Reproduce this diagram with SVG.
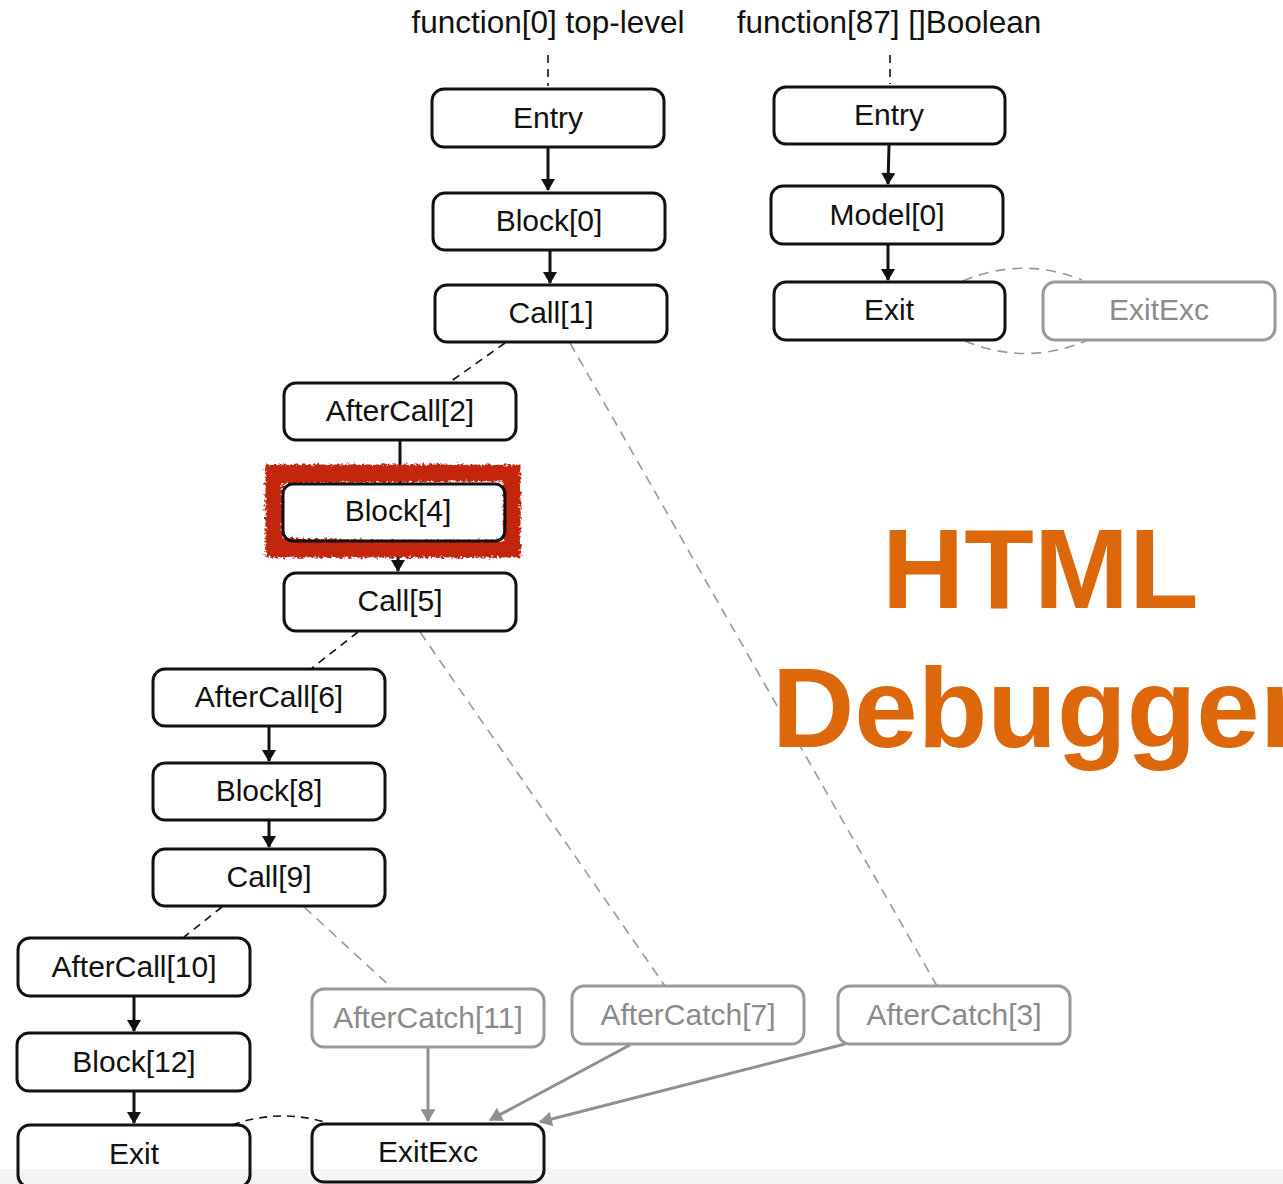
<svg xmlns="http://www.w3.org/2000/svg" width="1283" height="1184" viewBox="0 0 1283 1184">
<defs>
<style>
.n rect{fill:none;stroke:#111;stroke-width:3}
.n text{font-family:"Liberation Sans",Arial,sans-serif;font-size:30px;fill:#111;text-anchor:middle}
.g rect{stroke:#999}
.g text{fill:#8a8a8a}
.t{font-family:"Liberation Sans",Arial,sans-serif;font-size:31.5px;fill:#111;text-anchor:middle}
.e{fill:none;stroke:#111;stroke-width:3}
.eg{fill:none;stroke:#8f8f8f;stroke-width:3}
.d{fill:none;stroke:#111;stroke-width:1.6;stroke-dasharray:8 6}
.dg{fill:none;stroke:#999;stroke-width:1.6;stroke-dasharray:10 7}
.big{font-family:"Liberation Sans",Arial,sans-serif;font-weight:bold;font-size:114px;fill:#DD680C}
</style>
<marker id="ab" viewBox="0 0 12 14" refX="11" refY="7" markerWidth="13" markerHeight="14" markerUnits="userSpaceOnUse" orient="auto"><path d="M0,0 L12,7 L0,14 z" fill="#111"/></marker>
<marker id="ag" viewBox="0 0 12 14" refX="11" refY="7" markerWidth="15" markerHeight="15" markerUnits="userSpaceOnUse" orient="auto"><path d="M0,0 L12,7 L0,14 z" fill="#8f8f8f"/></marker>
<filter id="rough" x="-10%" y="-20%" width="120%" height="140%">
<feTurbulence type="fractalNoise" baseFrequency="0.35" numOctaves="2" seed="3" result="t"/>
<feDisplacementMap in="SourceGraphic" in2="t" scale="7"/>
</filter>
</defs>
<rect width="1283" height="1184" fill="#fff"/>
<rect x="0" y="1169" width="1283" height="15" fill="#f4f4f4"/>

<text class="t" x="548" y="33">function[0] top-level</text>
<text class="t" x="889" y="33">function[87] []Boolean</text>

<g id="connectors">
<line class="d" x1="548" y1="55" x2="548" y2="86" stroke-dasharray="12 6"/>
<line class="d" x1="890" y1="55" x2="890" y2="84" stroke-dasharray="12 6"/>
<line class="e" x1="548" y1="148" x2="548" y2="190" marker-end="url(#ab)"/>
<line class="e" x1="550" y1="251" x2="550" y2="283" marker-end="url(#ab)"/>
<line class="d" x1="505" y1="343" x2="450" y2="382"/>
<line class="dg" x1="570" y1="343" x2="937" y2="986"/>
<line class="e" x1="400" y1="441" x2="400" y2="484"/>
<line class="e" x1="398" y1="541" x2="398" y2="571" marker-end="url(#ab)"/>
<line class="d" x1="358" y1="632" x2="312" y2="668"/>
<line class="dg" x1="420" y1="632" x2="665" y2="986"/>
<line class="e" x1="269" y1="727" x2="269" y2="761" marker-end="url(#ab)"/>
<line class="e" x1="269" y1="821" x2="269" y2="847" marker-end="url(#ab)"/>
<line class="d" x1="222" y1="907" x2="184" y2="937"/>
<line class="dg" x1="304" y1="907" x2="392" y2="988"/>
<line class="e" x1="134" y1="997" x2="134" y2="1031" marker-end="url(#ab)"/>
<line class="e" x1="134" y1="1092" x2="134" y2="1123" marker-end="url(#ab)"/>
<path class="d" d="M232,1125 Q280,1108 328,1123"/>
<line class="eg" x1="428" y1="1048" x2="428" y2="1121" marker-end="url(#ag)"/>
<line class="eg" x1="630" y1="1045" x2="490" y2="1120" marker-end="url(#ag)"/>
<line class="eg" x1="845" y1="1044" x2="540" y2="1122" marker-end="url(#ag)"/>
<line class="e" x1="889" y1="145" x2="888" y2="184" marker-end="url(#ab)"/>
<line class="e" x1="888" y1="245" x2="888" y2="280" marker-end="url(#ab)"/>
<path class="dg" d="M963,281 Q1022,256 1082,280"/>
<path class="dg" d="M965,341 Q1025,366 1086,341"/>
</g>

<g id="entry0" class="n"><rect x="432" y="89" width="232" height="58" rx="12"/><text x="548" y="128">Entry</text></g>
<g id="block0" class="n"><rect x="433" y="193" width="232" height="57" rx="12"/><text x="549" y="231">Block[0]</text></g>
<g id="call1" class="n"><rect x="435" y="285" width="232" height="57" rx="12"/><text x="551" y="323">Call[1]</text></g>
<g id="aftercall2" class="n"><rect x="284" y="383" width="232" height="57" rx="12"/><text x="400" y="421">AfterCall[2]</text></g>
<g id="block4">
<rect x="274" y="473" width="238" height="76" fill="none" stroke="#C4280C" stroke-width="17" filter="url(#rough)"/>
<path d="M268,470 L516,468 M270,482 L514,478 M268,552 L517,550 M272,540 L512,545 M270,468 L268,552 M516,470 L518,550" fill="none" stroke="#C4280C" stroke-width="4" filter="url(#rough)"/>
<g class="n"><rect x="283" y="484" width="222" height="57" rx="10" fill="#fff"/><text x="398" y="521">Block[4]</text></g>
</g>
<g id="call5" class="n"><rect x="284" y="573" width="232" height="58" rx="12"/><text x="400" y="611">Call[5]</text></g>
<g id="aftercall6" class="n"><rect x="153" y="669" width="232" height="57" rx="12"/><text x="269" y="707">AfterCall[6]</text></g>
<g id="block8" class="n"><rect x="153" y="763" width="232" height="57" rx="12"/><text x="269" y="801">Block[8]</text></g>
<g id="call9" class="n"><rect x="153" y="849" width="232" height="57" rx="12"/><text x="269" y="887">Call[9]</text></g>
<g id="aftercall10" class="n"><rect x="18" y="938" width="232" height="58" rx="12"/><text x="134" y="977">AfterCall[10]</text></g>
<g id="block12" class="n"><rect x="17" y="1033" width="233" height="58" rx="12"/><text x="134" y="1072">Block[12]</text></g>
<g id="exit0" class="n"><rect x="18" y="1125" width="232" height="62" rx="12"/><text x="134" y="1164">Exit</text></g>
<g id="exitexc0" class="n"><rect x="312" y="1124" width="232" height="58" rx="12"/><text x="428" y="1162">ExitExc</text></g>
<g id="aftercatch11" class="n g"><rect x="312" y="989" width="232" height="58" rx="12"/><text x="428" y="1028">AfterCatch[11]</text></g>
<g id="aftercatch7" class="n g"><rect x="572" y="986" width="232" height="58" rx="12"/><text x="688" y="1025">AfterCatch[7]</text></g>
<g id="aftercatch3" class="n g"><rect x="838" y="986" width="232" height="58" rx="12"/><text x="954" y="1025">AfterCatch[3]</text></g>

<g id="entry87" class="n"><rect x="774" y="87" width="231" height="57" rx="12"/><text x="889" y="125">Entry</text></g>
<g id="model0" class="n"><rect x="771" y="186" width="232" height="58" rx="12"/><text x="887" y="225">Model[0]</text></g>
<g id="exit87" class="n"><rect x="774" y="282" width="231" height="58" rx="12"/><text x="889" y="320">Exit</text></g>
<g id="exitexc87" class="n g"><rect x="1043" y="282" width="232" height="58" rx="12"/><text x="1159" y="320">ExitExc</text></g>

<text class="big" x="882" y="608">HTML</text>
<text class="big" x="772" y="747">Debugger</text>
</svg>
